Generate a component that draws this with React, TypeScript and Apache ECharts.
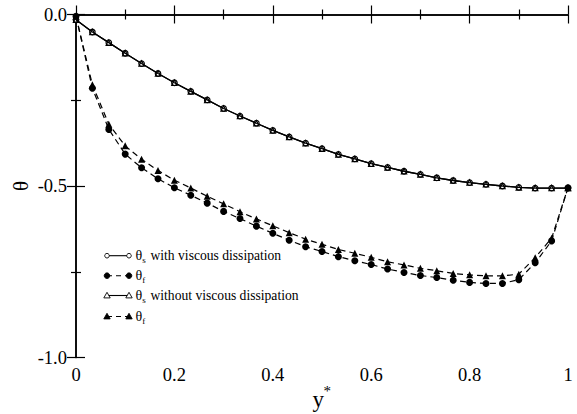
import React, { useEffect, useRef } from "react";
import * as echarts from "echarts";

const yStar = [
  0, 0.0333, 0.0667, 0.1, 0.1333, 0.1667, 0.2, 0.2333, 0.2667, 0.3, 0.3333,
  0.3667, 0.4, 0.4333, 0.4667, 0.5, 0.5333, 0.5667, 0.6, 0.6333, 0.6667,
  0.7, 0.7333, 0.7667, 0.8, 0.8333, 0.8667, 0.9, 0.9333, 0.9667, 1,
];
const thetaSWith = [
  -0.015, -0.051, -0.082, -0.113, -0.143, -0.172, -0.199, -0.224, -0.249,
  -0.274, -0.296, -0.317, -0.338, -0.357, -0.375, -0.391, -0.408, -0.421,
  -0.435, -0.446, -0.457, -0.466, -0.476, -0.484, -0.49, -0.495, -0.5, -0.504,
  -0.506, -0.506, -0.506,
];
const thetaFWith = [
  -0.005, -0.215, -0.335, -0.407, -0.447, -0.479, -0.505, -0.527, -0.55,
  -0.574, -0.595, -0.617, -0.638, -0.658, -0.677, -0.691, -0.706, -0.718,
  -0.729, -0.742, -0.752, -0.761, -0.767, -0.775, -0.781, -0.784, -0.784,
  -0.773, -0.724, -0.66, -0.505,
];
const thetaSWithout = [
  -0.015, -0.051, -0.082, -0.113, -0.143, -0.172, -0.199, -0.224, -0.249,
  -0.274, -0.296, -0.317, -0.338, -0.357, -0.375, -0.391, -0.408, -0.421,
  -0.435, -0.446, -0.457, -0.466, -0.476, -0.484, -0.49, -0.495, -0.5, -0.504,
  -0.506, -0.506, -0.506,
];
const thetaFWithout = [
  -0.005, -0.205, -0.32, -0.383, -0.422, -0.455, -0.483, -0.506, -0.53,
  -0.552, -0.575, -0.596, -0.616, -0.636, -0.655, -0.67, -0.685, -0.696,
  -0.708, -0.721, -0.73, -0.74, -0.747, -0.755, -0.759, -0.762, -0.762,
  -0.757, -0.709, -0.652, -0.505,
];
const legendLabels = [
  { main: "θ", sub: "s", rest: "with viscous dissipation" },
  { main: "θ", sub: "f", rest: "" },
  { main: "θ", sub: "s", rest: "without viscous dissipation" },
  { main: "θ", sub: "f", rest: "" },
];

const FONT = "Liberation Serif, Times New Roman, serif";

function pairs(ys: number[]) {
  return yStar.map((x, i) => [x, ys[i]]);
}

export default function App() {
  const ref = useRef<HTMLDivElement>(null);
  useEffect(() => {
    if (!ref.current) return;
    const chart = echarts.init(ref.current, null, { renderer: "svg" });

    const axisLine = { show: true, lineStyle: { color: "#000", width: 1.5 } };
    const axisTick = { show: true, inside: true, length: 9, lineStyle: { color: "#000", width: 1.2 } };
    const minorTick = { show: true, splitNumber: 2, length: 5, lineStyle: { color: "#000", width: 1.2 } };

    const rowY = [255.7, 275.7, 295.5, 316.5];
    const lx1 = 107;
    const lx2 = 129;
    const legendEls: any[] = [];
    rowY.forEach((cy, i) => {
      const dashed = i === 1 || i === 3;
      const tri = i >= 2;
      const filled = i === 1 || i === 3;
      legendEls.push({
        type: "line",
        shape: { x1: lx1, y1: cy, x2: lx2, y2: cy },
        style: { stroke: "#000", lineWidth: 1.1, lineDash: dashed ? [5, 4] : null },
      });
      [lx1, lx2].forEach((cx) => {
        if (tri) {
          legendEls.push({
            type: "polygon",
            shape: { points: [[cx, cy - 3.2], [cx + 3.2, cy + 2.4], [cx - 3.2, cy + 2.4]] },
            style: { fill: filled ? "#000" : "#fff", stroke: "#000", lineWidth: 0.9 },
          });
        } else {
          legendEls.push({
            type: "circle",
            shape: { cx, cy, r: filled ? 2.8 : 2.3 },
            style: { fill: filled ? "#000" : "#fff", stroke: "#000", lineWidth: 0.9 },
          });
        }
      });
      const lab = legendLabels[i];
      legendEls.push({
        type: "text",
        x: 135.5,
        y: cy,
        style: { text: lab.main, font: `14px ${FONT}`, fill: "#000", textAlign: "left", textVerticalAlign: "middle" },
      });
      legendEls.push({
        type: "text",
        x: 142.3,
        y: cy + 4.5,
        style: { text: lab.sub, font: `9px ${FONT}`, fill: "#000", textAlign: "left", textVerticalAlign: "middle" },
      });
      if (lab.rest) {
        legendEls.push({
          type: "text",
          x: 150.5,
          y: cy,
          style: { text: lab.rest, font: `13.6px ${FONT}`, fill: "#000", textAlign: "left", textVerticalAlign: "middle" },
        });
      }
    });

    const option: any = {
      animation: false,
      backgroundColor: "#fff",
      textStyle: { fontFamily: FONT },
      grid: { left: 76, right: 9, top: 14.5, bottom: 56.5, containLabel: false },
      xAxis: [
        {
          type: "value",
          min: 0,
          max: 1,
          interval: 0.2,
          position: "bottom",
          axisLine,
          axisTick,
          minorTick,
          splitLine: { show: false },
          axisLabel: {
            color: "#000",
            fontFamily: FONT,
            fontSize: 18.5,
            margin: 8,
            formatter: (v: number) => (v === 0 ? "0" : v === 1 ? "1" : v.toFixed(1)),
          },
        },
        {
          type: "value",
          min: 0,
          max: 1,
          interval: 0.2,
          position: "top",
          axisLine,
          axisTick,
          minorTick,
          splitLine: { show: false },
          axisLabel: { show: false },
        },
      ],
      yAxis: [
        {
          type: "value",
          min: -1,
          max: 0,
          interval: 0.5,
          position: "left",
          axisLine,
          axisTick,
          minorTick,
          splitLine: { show: false },
          axisLabel: {
            color: "#000",
            fontFamily: FONT,
            fontSize: 18.5,
            margin: 9,
            formatter: (v: number) => (v === 0 ? "0.0" : v.toFixed(1)),
          },
        },
        {
          type: "value",
          min: -1,
          max: 0,
          interval: 0.5,
          position: "right",
          axisLine,
          axisTick,
          minorTick,
          splitLine: { show: false },
          axisLabel: { show: false },
        },
      ],
      series: [
        {
          name: "θs with viscous dissipation",
          type: "line",
          data: pairs(thetaSWith),
          symbol: "circle",
          symbolSize: 5.5,
          showAllSymbol: true,
          lineStyle: { color: "#000", width: 1.3 },
          itemStyle: { color: "#fff", borderColor: "#000", borderWidth: 1.2 },
          z: 3,
        },
        {
          name: "θs without viscous dissipation",
          type: "line",
          data: pairs(thetaSWithout),
          symbol: "triangle",
          symbolSize: 5.5,
          showAllSymbol: true,
          lineStyle: { color: "#000", width: 1.3 },
          itemStyle: { color: "rgba(255,255,255,0)", borderColor: "#000", borderWidth: 1.1 },
          z: 4,
        },
        {
          name: "θf with viscous dissipation",
          type: "line",
          data: pairs(thetaFWith),
          symbol: "circle",
          symbolSize: 7,
          showAllSymbol: true,
          lineStyle: { color: "#000", width: 1.2, type: [6, 4] },
          itemStyle: { color: "#000", borderColor: "#000", borderWidth: 0 },
          z: 5,
        },
        {
          name: "θf without viscous dissipation",
          type: "line",
          data: pairs(thetaFWithout),
          symbol: "triangle",
          symbolSize: 7,
          showAllSymbol: true,
          lineStyle: { color: "#000", width: 1.2, type: [6, 4] },
          itemStyle: { color: "#000", borderColor: "#000", borderWidth: 0 },
          z: 5,
        },
      ],
      graphic: [
        ...legendEls,
        {
          type: "text",
          x: 20.5,
          y: 186,
          rotation: Math.PI / 2,
          style: { text: "θ", font: `21px ${FONT}`, fill: "#000", textAlign: "center", textVerticalAlign: "middle" },
        },
        {
          type: "text",
          x: 312.5,
          y: 399,
          style: { text: "y", font: `23px ${FONT}`, fill: "#000", textAlign: "left", textVerticalAlign: "middle" },
        },
        {
          type: "text",
          x: 323.5,
          y: 391,
          style: { text: "*", font: `15px ${FONT}`, fill: "#000", textAlign: "left", textVerticalAlign: "middle" },
        },
      ],
    };
    chart.setOption(option);
    return () => chart.dispose();
  }, []);
  return <div ref={ref} style={{ width: 577, height: 414, position: "absolute", left: 0, top: 0 }} />;
}
